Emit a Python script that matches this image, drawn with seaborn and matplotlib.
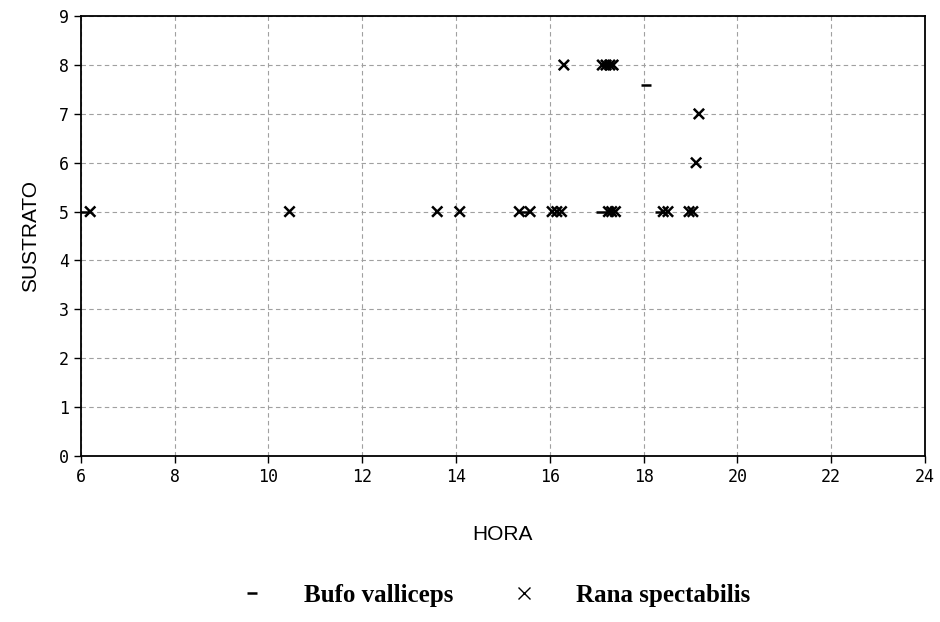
import numpy as np
import pandas as pd
import matplotlib
matplotlib.use("Agg")
import matplotlib.pyplot as plt
import seaborn as sns

# Data
rana_hora = [6.2, 10.45, 13.6, 14.08, 15.35, 15.58, 16.05, 16.15, 16.25,
             17.25, 17.32, 17.4, 18.42, 18.52, 18.97, 19.05,
             16.3, 17.12, 17.2, 17.28, 17.35,
             19.18, 19.12]
rana_sustrato = [5, 5, 5, 5, 5, 5, 5, 5, 5,
                 5, 5, 5, 5, 5, 5, 5,
                 8, 8, 8, 8, 8,
                 7, 6]
bufo_hora = [6.05, 15.45, 17.1, 18.35, 18.05]
bufo_sustrato = [5, 5, 5, 5, 7.6]
species = ["Bufo valliceps", "Rana spectabilis"]
xticks = list(range(6, 25, 2))
yticks = list(range(0, 10))

df = pd.DataFrame({
    "HORA": bufo_hora + rana_hora,
    "SUSTRATO": bufo_sustrato + rana_sustrato,
    "Especie": [species[0]] * len(bufo_hora) + [species[1]] * len(rana_hora),
})

sns.set_theme(style="white")
plt.rcParams["text.color"] = "black"
plt.rcParams["axes.labelcolor"] = "black"
plt.rcParams["xtick.color"] = "black"
plt.rcParams["ytick.color"] = "black"
fig = plt.figure(figsize=(9.4, 6.22), dpi=100)
ax = fig.add_axes([0.086, 0.267, 0.898, 0.707])

sns.scatterplot(data=df, x="HORA", y="SUSTRATO", style="Especie",
                markers={species[0]: "_", species[1]: "x"},
                color="black", s=55, linewidth=1.8, ax=ax, legend=False)

ax.set_xlim(6, 24)
ax.set_ylim(0, 9)
ax.set_xticks(xticks)
ax.set_yticks(yticks)
ax.grid(True, color="#a0a0a0", linestyle=(0, (4, 3)), linewidth=0.8)
for s in ax.spines.values():
    s.set_color("black")
    s.set_linewidth(1.3)
ax.tick_params(axis="both", direction="out", length=5, width=1, colors="black",
               labelsize=12, left=True, bottom=True)
for lab in ax.get_xticklabels() + ax.get_yticklabels():
    lab.set_family("DejaVu Sans Mono")
ax.set_xlabel("HORA", fontsize=15, family="Liberation Sans", labelpad=28, color="black")
ax.set_ylabel("SUSTRATO", fontsize=15, family="Liberation Sans", labelpad=14, color="black")

from matplotlib.lines import Line2D
handles = [Line2D([], [], marker="_", linestyle="none", color="black", markersize=7, markeredgewidth=1.8),
           Line2D([], [], marker="x", linestyle="none", color="black", markersize=9, markeredgewidth=1)]
fig.legend(handles, species, loc="center", bbox_to_anchor=(0.52, 0.043), ncol=2,
           frameon=False, prop={"family": "Liberation Serif", "weight": "bold", "size": 18},
           columnspacing=1.8, handletextpad=1.1)

fig.savefig("out.png", dpi=100, facecolor="white")
